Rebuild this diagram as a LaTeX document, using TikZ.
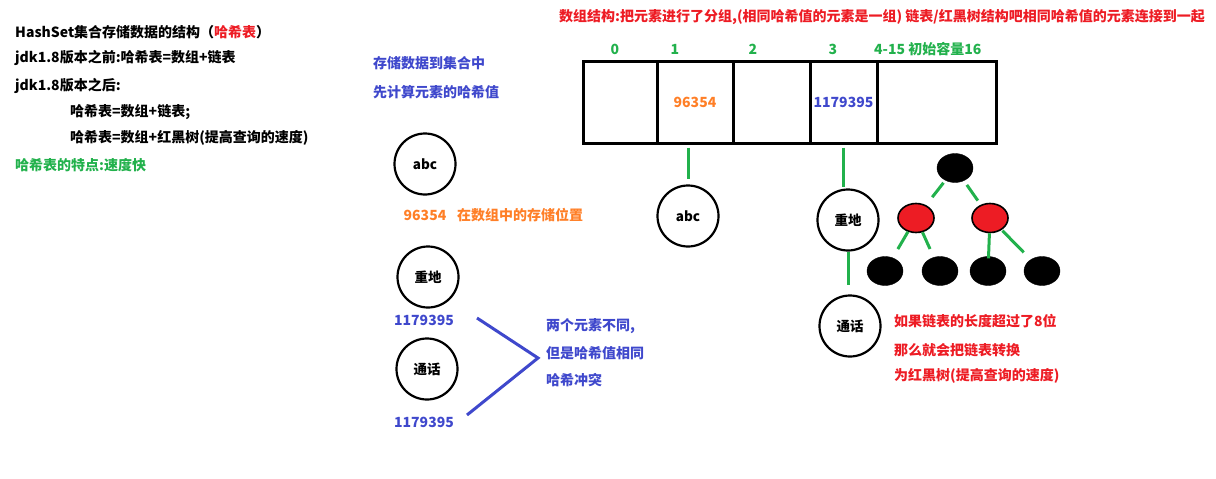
\documentclass[tikz,border=0pt]{standalone}
\usepackage{fontspec}
\setmainfont{Noto Sans CJK SC}
\usepackage{tikz}
\usetikzlibrary{shapes.geometric, positioning}

\definecolor{paintred}{RGB}{237,28,36}
\definecolor{paintgreen}{RGB}{34,177,76}
\definecolor{paintblue}{RGB}{63,72,204}
\definecolor{paintorange}{RGB}{255,127,39}

\begin{document}
\begin{tikzpicture}[
    x=1pt, y=-1pt,
    txt/.style={anchor=west, inner sep=0pt, font=\fontsize{14}{16}\selectfont\bfseries},
    idx/.style={inner sep=0pt, text=paintgreen, font=\fontsize{14}{16}\selectfont\bfseries},
    elem/.style={circle, draw=black, line width=2.2pt, minimum size=61pt, inner sep=0pt, font=\fontsize{13.5}{16}\selectfont\bfseries},
    cell/.style={rectangle, draw=black, line width=3pt, minimum height=82pt, inner sep=0pt, font=\fontsize{14}{16}\selectfont\bfseries},
    blacknode/.style={ellipse, draw=black, fill=black, minimum width=36pt, minimum height=29pt, inner sep=0pt},
    rednode/.style={ellipse, draw=black, line width=1.6pt, fill=paintred, minimum width=36pt, minimum height=29pt, inner sep=0pt},
    link/.style={draw=paintgreen, line width=3pt},
    clash/.style={draw=paintblue, line width=3pt}
]
\useasboundingbox (0,0) rectangle (1216,479);

% Left description
\node[txt] (title)  at (15,32)  {HashSet集合存储数据的结构（\textcolor{paintred}{哈希表}）};
\node[txt] (before) at (15,58)  {jdk1.8版本之前:哈希表=数组+链表};
\node[txt] (after)  at (15,86)  {jdk1.8版本之后:};
\node[txt] (afterA) at (70,112) {哈希表=数组+链表;};
\node[txt] (afterB) at (70,138) {哈希表=数组+红黑树(提高查询的速度)};
\node[txt, text=paintgreen] (feature) at (15,165) {哈希表的特点:速度快};

% Top note
\node[txt, text=paintred] (groupNote) at (559,17) {数组结构:把元素进行了分组,(相同哈希值的元素是一组) 链表/红黑树结构吧相同哈希值的元素连接到一起};

% Storing steps
\node[txt, text=paintblue] (storeA) at (373,63) {存储数据到集合中};
\node[txt, text=paintblue] (storeB) at (373,92) {先计算元素的哈希值};

% Elements and their hash values
\node[elem] (abcA) at (425,164) {abc};
\node[txt, anchor=center, text=paintorange] (abcVal) at (425,215) {96354};
\node[txt, text=paintorange] (posNote) at (457,215) {在数组中的存储位置};

\node[elem] (hashB) at (428,277) {重地};
\node[txt, anchor=center, text=paintblue] (hashBval) at (424,320) {1179395};
\node[elem] (callB) at (427,369) {通话};
\node[txt, anchor=center, text=paintblue] (callBval) at (424,422) {1179395};

% Hash collision
\coordinate (clashA) at (477,318);
\coordinate (meet)   at (538,358);
\coordinate (clashB) at (467,415);
\draw[clash] (clashA) -- (meet) -- (clashB);
\node[txt, text=paintblue] (clashNoteA) at (546,326) {两个元素不同,};
\node[txt, text=paintblue] (clashNoteB) at (546,353) {但是哈希值相同};
\node[txt, text=paintblue] (clashNoteC) at (546,380) {哈希冲突};

% Array of buckets
\node[cell, minimum width=74pt]  (cell0) at (620,102)   {};
\node[cell, minimum width=76pt]  (cell1) at (695,102)   {\textcolor{paintorange}{96354}};
\node[cell, minimum width=77pt]  (cell2) at (771.5,102) {};
\node[cell, minimum width=67pt]  (cell3) at (843.5,102) {\textcolor{paintblue}{1179395}};
\node[cell, minimum width=119pt] (cell4) at (936.5,102) {};

\node[idx] (idx0) at (615,49) {0};
\node[idx] (idx1) at (675,49) {1};
\node[idx] (idx2) at (753,49) {2};
\node[idx] (idx3) at (833,49) {3};
\node[idx, anchor=west] (idx4) at (874,49) {4-15 初始容量16};

% Buckets' chains
\node[elem] (abcC)  at (688,216) {abc};
\node[elem] (hashC) at (848,220) {重地};
\node[elem] (callC) at (850,326) {通话};

\draw[link, shorten <=3pt, shorten >=5pt] (cell1.south -| abcC.north) -- (abcC.north);
\draw[link, shorten <=3pt, shorten >=1pt] (cell3.south) -- (cell3.south |- hashC.north);
\draw[link, shorten >=9pt] (hashC.south) -- (hashC.south |- callC.north);

% Red-black tree
\node[blacknode] (rbRoot) at (955,168) {};
\node[rednode]   (redL)   at (916,218) {};
\node[rednode]   (redR)   at (990,218) {};
\node[blacknode] (leafA)  at (885,271) {};
\node[blacknode] (leafB)  at (940,271) {};
\node[blacknode] (leafC)  at (988,271) {};
\node[blacknode] (leafD)  at (1042,271) {};

\draw[link, shorten <=3pt, shorten >=10pt] (rbRoot) -- (redL);
\draw[link, shorten <=5pt, shorten >=5pt]  (rbRoot) -- (redR);
\draw[link, shorten >=10pt] (redL) -- (leafA);
\draw[link, shorten >=9pt]  (redL) -- (leafB);
\draw[link, shorten >=-2pt] (redR) -- (leafC);
\draw[link, shorten <=1pt, shorten >=10pt] (redR) -- (leafD);

\node[txt, text=paintred] (treeNoteA) at (894,321) {如果链表的长度超过了8位};
\node[txt, text=paintred] (treeNoteB) at (894,350) {那么就会把链表转换};
\node[txt, text=paintred] (treeNoteC) at (894,376) {为红黑树(提高查询的速度)};

\end{tikzpicture}
\end{document}
